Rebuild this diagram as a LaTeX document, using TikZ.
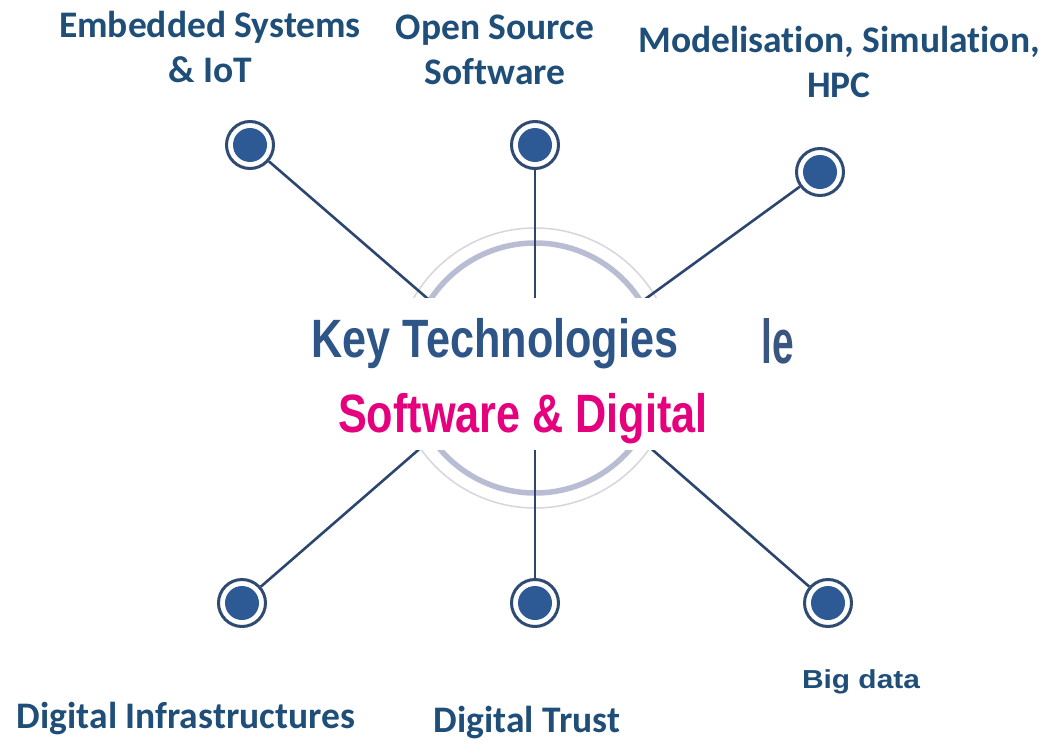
\documentclass[tikz,border=0pt]{standalone}
\usepackage{fontspec}
\setmainfont[Ligatures=NoCommon]{Carlito}
\newfontfamily\narrowf[FakeStretch=0.8]{Liberation Sans}
\newfontfamily\arialf{Liberation Sans}
\definecolor{labelc}{HTML}{1F4E79}
\definecolor{keyc}{HTML}{2D5587}
\definecolor{magc}{HTML}{E5007D}
\definecolor{linec}{HTML}{2C4670}
\definecolor{dotc}{HTML}{2D5A95}
\definecolor{ringc}{HTML}{2F4B72}
\definecolor{outerringc}{HTML}{D5D6DE}
\definecolor{innerringc}{HTML}{B9BDD3}
\definecolor{lec}{HTML}{3A5580}
\tikzset{
  dotnode/.style={circle, draw=ringc, line width=3pt, fill=white, minimum size=47pt, inner sep=0pt,
    path picture={\fill[dotc] (path picture bounding box.center) circle (17pt);}},
  spoke/.style={draw=linec, line width=2.6pt},
  toplabel/.style={text=labelc, font=\fontsize{37.5}{45}\selectfont\bfseries, align=center, inner sep=0pt, anchor=base},
  botlabel/.style={text=labelc, font=\fontsize{37.5}{45}\selectfont\bfseries, inner sep=0pt, anchor=base},
}
\begin{document}
\begin{tikzpicture}[x=1pt,y=-1pt]
\useasboundingbox (0,0) rectangle (1051,749);
\fill[white] (0,0) rectangle (1051,749);
% rings
\coordinate (hub) at (535,368);
\draw[outerringc, line width=1.5pt] (hub) circle (140pt);
\draw[innerringc, line width=5.5pt] (hub) circle (125pt);
% nodes
\node[dotnode] (tl) at (250,145) {};
\node[dotnode] (tm) at (535,145) {};
\node[dotnode] (tr) at (820,172) {};
\node[dotnode] (bl) at (242,603) {};
\node[dotnode] (bm) at (535,603) {};
\node[dotnode] (br) at (828,603) {};
% spoke ends (hidden under the centre box)
\coordinate (tle) at (435,305);
\coordinate (tme) at (535,305);
\coordinate (tre) at (637,305);
\coordinate (ble) at (424,445);
\coordinate (bme) at (535,445);
\coordinate (bre) at (647,445);
\draw[spoke] (tl) -- (tle);
\draw[spoke] (tm) -- (tme);
\draw[spoke] (tr) -- (tre);
\draw[spoke] (bl) -- (ble);
\draw[spoke] (bm) -- (bme);
\draw[spoke] (br) -- (bre);
% centre box
\fill[white] (290,298) rectangle (713,450);
\node[text=keyc, font=\narrowf\bfseries\fontsize{54}{60}\selectfont, inner sep=0pt, anchor=base] (key) at (495,357) {Key Technologies};
\node[text=magc, font=\narrowf\bfseries\fontsize{54}{60}\selectfont, inner sep=0pt, anchor=base] (sd) at (523,432) {Software \& Digital};
\node[text=lec, font=\narrowf\bfseries\fontsize{54}{60}\selectfont, inner sep=0pt, anchor=base] (le) at (778,363) {\scalebox{0.9}[1.15]{le}};
% labels
\node[toplabel] (l1) at (210,83) {Embedded Systems\\\& IoT};
\node[toplabel] (l2) at (495,85) {Open Source\\Software};
\node[toplabel] (l3) at (839,98) {Modelisation, Simulation,\\HPC};
\node[botlabel] (l4) at (186,728) {Digital Infrastructures};
\node[botlabel] (l5) at (527,732) {Digital Trust};
\node[text=labelc, font=\arialf\bfseries\fontsize{26}{30}\selectfont, inner sep=0pt, anchor=base] (l6) at (861,688) {\scalebox{1.15}[1]{Big data}};
\end{tikzpicture}
\end{document}
